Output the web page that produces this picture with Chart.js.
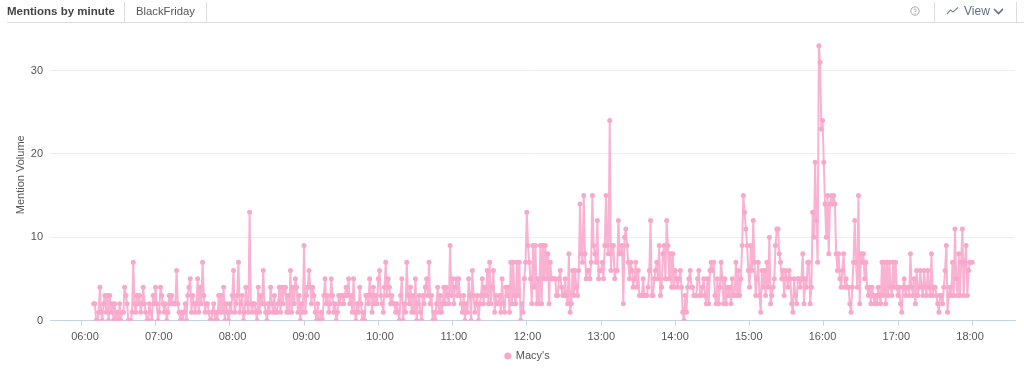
<!DOCTYPE html>
<html>
<head>
<meta charset="utf-8">
<title>Mentions by minute</title>
<script src="https://cdn.jsdelivr.net/npm/chart.js@4"></script>
<style>
  html, body { margin: 0; padding: 0; background: #fff; }
  body { width: 1024px; height: 373px; overflow: hidden; position: relative; font-family: "Liberation Sans", Arial, sans-serif; }
  #wrap { position: absolute; left: 0; top: 0; width: 1024px; height: 373px; }
  .rule { position: absolute; left: 7px; right: 0; top: 22px; height: 1px; background: #dcdcdc; }
  .sep { position: absolute; top: 2px; width: 1px; height: 20px; background: #dcdcdc; }
  .txt { position: absolute; top: 4px; font-size: 11.3px; line-height: 15px; white-space: nowrap; }
  svg { position: absolute; }
</style>
</head>
<body>
<div id="wrap"><canvas id="chart" width="1024" height="373"></canvas></div>
<div class="txt" style="left:7px;font-size:11.5px;font-weight:bold;color:#444">Mentions by minute</div>
<div class="sep" style="left:124px"></div>
<div class="txt" style="left:136px;color:#555">BlackFriday</div>
<div class="sep" style="left:206px"></div>
<svg style="left:909px;top:5px" width="12" height="12" viewBox="0 0 12 12">
  <circle cx="6" cy="6" r="4.2" fill="none" stroke="#aaa" stroke-width="1"/>
  <path d="M4.8 5 A1.2 1.2 0 1 1 6 6.4 V7 M6 8 V8.8" fill="none" stroke="#aaa" stroke-width="0.9"/>
</svg>
<div class="sep" style="left:934px"></div>
<svg style="left:946px;top:6px" width="13" height="10" viewBox="0 0 13 10">
  <path d="M1 8 L4.5 4 L7 6 L12 1.5" fill="none" stroke="#7d8b99" stroke-width="1.2"/>
</svg>
<div class="txt" style="left:964px;font-size:12px;color:#5f6f80">View</div>
<svg style="left:993px;top:8px" width="11" height="7" viewBox="0 0 11 7">
  <path d="M1 1 L5.5 5.5 L10 1" fill="none" stroke="#5f6f80" stroke-width="1.6"/>
</svg>
<div class="sep" style="left:1016px"></div>
<div class="rule"></div>
<script>
const startMinute = 370; // 06:10, first point in the series
const seriesName = "Macy's";
const axisTitle = "Mention Volume";
const hourTicks = [360, 420, 480, 540, 600, 660, 720, 780, 840, 900, 960, 1020, 1080];
const volumeTicks = [0, 10, 20, 30];

// one list per hour
const h06 = [2,2,0,0,1,4,1,0,2,3, 1,3,0,3,1,2,0,2,0,1, 0,2,0,1,1,4,3,2,0,0, 0,1,7,2,1,3,2,3,1,2, 4,2,1,0,0,2,1,0,3,2];
const h07 = [4,2,0,1,4,3,2,1,2,0, 1,3,2,3,2,2,2,6,2,1, 0,1,0,1,2,0,3,4,5,1, 3,2,1,2,5,1,4,2,7,3, 1,2,2,1,0,0,1,2,0,1, 0,3,1,3,1,4,0,2,1,0];
const h08 = [2,1,3,6,1,2,3,7,1,2, 3,0,1,4,2,1,13,2,1,2, 2,1,0,4,1,3,2,6,2,1, 0,2,1,4,2,1,3,1,1,2, 4,1,4,2,4,4,1,3,1,6, 1,4,2,5,4,1,3,0,2,1];
const h09 = [9,1,3,4,6,4,2,4,3,1, 0,2,0,0,1,0,3,5,2,3, 1,2,5,3,1,2,0,1,3,2, 3,3,2,3,4,3,5,2,3,1, 5,1,0,2,1,4,2,0,1,0, 3,3,2,5,3,1,4,2,3,2];
const h10 = [5,6,3,2,1,4,7,3,5,4, 2,3,2,2,1,2,1,0,3,5, 0,2,1,7,3,2,4,1,3,1, 5,0,2,3,1,0,3,2,4,5, 3,7,2,3,0,1,0,2,4,1, 3,1,2,4,2,4,3,2,9,3];
const h11 = [5,2,4,5,3,5,3,2,1,3, 0,2,1,5,3,0,6,3,1,2, 3,0,2,3,5,2,4,3,6,2, 7,2,4,6,1,3,2,2,3,1, 5,2,1,4,3,4,1,7,2,7, 3,2,7,3,7,0,2,1,5,7];
const h12 = [13,9,7,5,2,9,4,9,2,5, 2,9,2,9,5,9,5,8,2,7, 5,5,5,5,3,3,5,6,4,3, 3,5,3,2,8,1,2,6,3,6, 4,3,6,14,8,7,15,8,5,6, 6,5,7,15,9,8,7,12,5,6];
const h13 = [6,7,5,9,15,9,8,24,6,9, 9,5,6,6,12,8,8,9,2,10, 11,9,7,5,7,6,4,5,7,4, 6,3,3,3,5,3,3,3,4,6, 12,3,3,5,6,7,5,9,3,4, 8,9,5,12,9,5,8,4,8,4];
const h14 = [6,5,4,5,6,4,1,0,3,1, 4,5,6,4,4,3,3,3,5,6, 3,3,4,5,3,2,5,2,6,7, 6,7,3,2,5,2,4,7,5,2, 5,2,4,3,4,2,5,3,3,7, 3,6,3,5,9,15,13,11,9,6];
const h15 = [4,9,6,12,7,3,5,7,3,1, 6,4,6,3,7,4,10,2,3,4, 5,9,11,11,8,7,5,6,3,6, 5,4,6,5,2,1,5,3,2,5, 5,4,5,8,2,5,4,7,7,2, 4,13,10,19,12,7,33,31,23,24];
const h16 = [19,14,10,15,8,14,15,14,15,14, 8,6,8,5,4,6,8,4,5,4, 4,2,1,4,7,12,7,4,15,2, 8,7,8,5,7,4,3,4,2,4, 3,2,3,2,4,3,2,7,3,7, 2,7,3,7,4,3,7,4,7,4];
const h17 = [3,4,2,1,4,5,3,4,4,3, 8,4,3,5,2,6,3,4,6,4, 3,6,4,3,6,4,3,8,3,4, 4,3,2,1,3,3,2,4,6,9, 1,3,4,3,7,3,11,5,3,8, 3,7,11,3,7,9,3,6,7,7];
const h18 = [7];

const mentions = [].concat(h06, h07, h08, h09, h10, h11, h12, h13, h14, h15, h16, h17, h18);
const points = mentions.map((v, i) => ({ x: startMinute + i, y: v }));

function hhmm(m) {
  const h = Math.floor(m / 60);
  return String(h).padStart(2, "0") + ":" + String(m % 60).padStart(2, "0");
}

// legend sits a little left of the plot centre in the original
const nudgeLegend = {
  id: "nudgeLegend",
  afterLayout(chart) {
    chart.legend.left -= 5;
    chart.legend.right -= 5;
  }
};

Chart.defaults.font.family = '"Liberation Sans", Arial, sans-serif';

new Chart(document.getElementById("chart").getContext("2d"), {
  type: "line",
  plugins: [nudgeLegend],
  data: {
    datasets: [
      {
        label: seriesName,
        data: points,
        borderColor: "#f9b2d2",
        backgroundColor: "#f8a8cb",
        borderWidth: 2,
        borderJoinStyle: "round",
        pointRadius: 2.5,
        pointBorderWidth: 0,
        tension: 0
      }
    ]
  },
  options: {
    responsive: false,
    animation: false,
    layout: { padding: { top: 29, right: 9, bottom: 1.5 } },
    plugins: {
      tooltip: { enabled: false },
      legend: {
        position: "bottom",
        fullSize: false,
        labels: {
          usePointStyle: true,
          pointStyle: "circle",
          boxWidth: 5,
          boxHeight: 5,
          padding: 6,
          color: "#555",
          font: { size: 11 }
        }
      }
    },
    scales: {
      x: {
        type: "linear",
        weight: 0,
        min: 360 - 31.3 / 1.2375,
        max: 360 + (1015 - 81.3) / 1.2375,
        afterBuildTicks: (s) => { s.ticks = hourTicks.map((v) => ({ value: v })); },
        afterFit: (s) => { s.height = 6; },
        border: { color: "#c6d3e3" },
        grid: { drawOnChartArea: false, drawTicks: true, tickColor: "#c6d3e3", tickLength: 5 },
        ticks: { display: false }
      },
      // labels run a touch tighter than the tick marks in the original
      xLabels: {
        type: "linear",
        axis: "x",
        position: "bottom",
        weight: 1,
        min: 360 - 35 / 1.2292,
        max: 360 + 930 / 1.2292,
        afterBuildTicks: (s) => { s.ticks = hourTicks.map((v) => ({ value: v })); },
        afterFit: (s) => { s.height = 18; },
        border: { display: false },
        grid: { display: false, drawTicks: false },
        ticks: {
          callback: (v) => hhmm(v),
          autoSkip: false,
          maxRotation: 0,
          color: "#555",
          font: { size: 11 },
          padding: 4
        }
      },
      y: {
        min: 0,
        max: 35,
        afterBuildTicks: (s) => { s.ticks = volumeTicks.map((v) => ({ value: v })); },
        afterFit: (s) => { s.width = 50; },
        border: { display: false },
        grid: { color: "#eeeeee", drawTicks: false },
        title: {
          display: true,
          text: axisTitle,
          color: "#555",
          font: { size: 11 },
          padding: { top: 14, bottom: 0 }
        },
        ticks: { color: "#555", font: { size: 11 }, padding: 7 }
      }
    }
  }
});
</script>
</body>
</html>
